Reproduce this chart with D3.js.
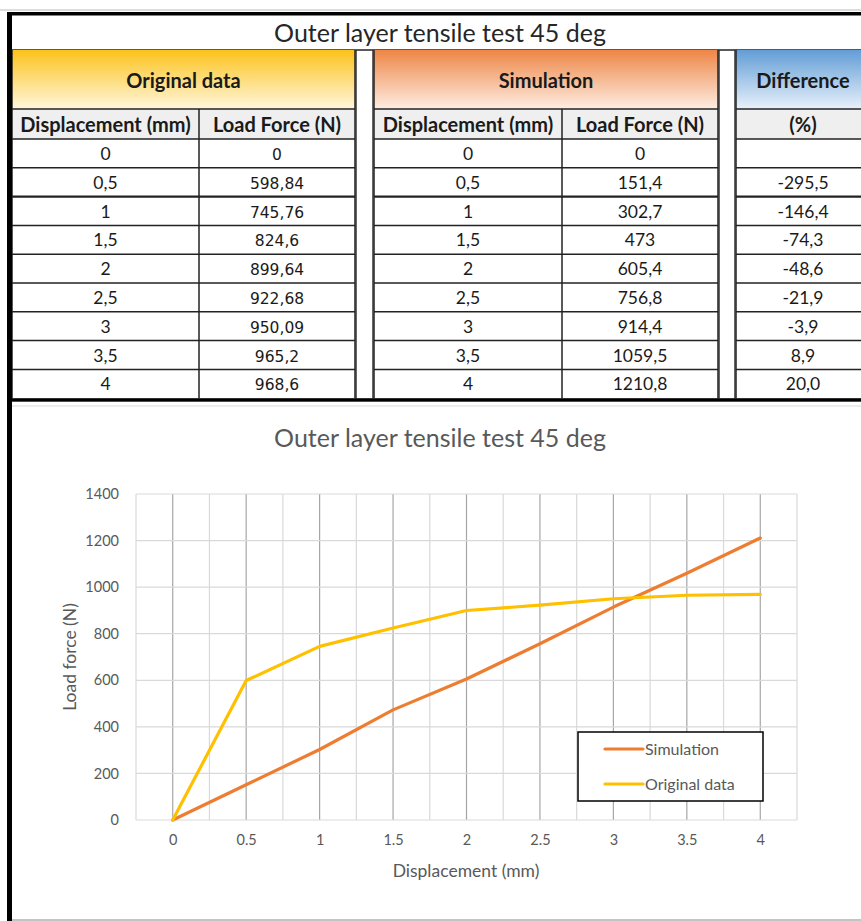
<!DOCTYPE html>
<html>
<head>
<meta charset="utf-8">
<script src="https://cdn.jsdelivr.net/npm/d3@7"></script>
<style>
  html, body { margin: 0; padding: 0; background: #fff; }
  svg { display: block; }
</style>
</head>
<body>
<svg id="sheet" width="861" height="921" font-family="Lato, 'Open Sans', sans-serif"></svg>
<script>
// Tensile test data: displacement (mm) and load force (N)
const displacement = [0, 0.5, 1, 1.5, 2, 2.5, 3, 3.5, 4];
const originalLoad = [0, 598.84, 745.76, 824.6, 899.64, 922.68, 950.09, 965.2, 968.6];
const simulationLoad = [0, 151.4, 302.7, 473, 605.4, 756.8, 914.4, 1059.5, 1210.8];
const differencePct = [null, -295.5, -146.4, -74.3, -48.6, -21.9, -3.9, 8.9, 20.0];

const title = "Outer layer tensile test 45 deg";
const groupHeaders = ["Original data", "Simulation", "Difference"];
const columnHeaders = ["Displacement (mm)", "Load Force (N)", "Displacement (mm)", "Load Force (N)", "(%)"];
const yTicks = [0, 200, 400, 600, 800, 1000, 1200, 1400];
const xTicks = [0, 0.5, 1, 1.5, 2, 2.5, 3, 3.5, 4];
const seriesNames = ["Simulation", "Original data"];
const seriesColors = ["#ED7D31", "#FFC000"];

const svg = d3.select("#sheet");
const comma = v => String(v).replace(".", ",");

// ---------- table ----------
const cols = [
  {x0: 12, x1: 199}, {x0: 199, x1: 355},
  {x0: 374, x1: 562}, {x0: 562, x1: 718},
  {x0: 736, x1: 870}
];
const gaps = [{x0: 355, x1: 374}, {x0: 718, x1: 736}];
const groups = [
  {x0: 12, x1: 355, top: "#FCC21B", bottom: "#FFF7DE"},
  {x0: 374, x1: 718, top: "#EE8645", bottom: "#FDEDE3"},
  {x0: 736, x1: 870, top: "#639DD6", bottom: "#E8F1FA"}
];
const titleTop = 15, headTop = 50, colHeadTop = 109, dataTop = 139, rowH = 28.8;

const defs = svg.append("defs");
groups.forEach((g, i) => {
  const lg = defs.append("linearGradient").attr("id", "hg" + i)
    .attr("x1", 0).attr("y1", 0).attr("x2", 0).attr("y2", 1);
  lg.append("stop").attr("offset", "0%").attr("stop-color", g.top);
  lg.append("stop").attr("offset", "100%").attr("stop-color", g.bottom);
});

const table = svg.append("g");

// title row
table.append("text")
  .attr("x", 440).attr("y", 42)
  .attr("text-anchor", "middle")
  .attr("font-size", 25).attr("fill", "#262626")
  .text(title);
table.append("line").attr("x1", 12).attr("x2", 861).attr("y1", headTop).attr("y2", headTop)
  .attr("stroke", "#222").attr("stroke-width", 1.5);

// group header cells
groups.forEach((g, i) => {
  table.append("rect").attr("x", g.x0).attr("y", headTop)
    .attr("width", g.x1 - g.x0).attr("height", colHeadTop - headTop)
    .attr("fill", `url(#hg${i})`);
  table.append("text")
    .attr("x", (g.x0 + g.x1) / 2).attr("y", 88)
    .attr("text-anchor", "middle").attr("font-weight", "bold")
    .attr("font-size", 20).attr("fill", "#1a1a1a")
    .text(groupHeaders[i]);
});

// column header cells
cols.forEach((c, i) => {
  table.append("rect").attr("x", c.x0).attr("y", colHeadTop)
    .attr("width", c.x1 - c.x0).attr("height", dataTop - colHeadTop)
    .attr("fill", "#EFEFEF");
  table.append("text")
    .attr("x", (c.x0 + c.x1) / 2).attr("y", 132)
    .attr("text-anchor", "middle").attr("font-weight", "bold")
    .attr("font-size", 20).attr("fill", "#1a1a1a")
    .text(columnHeaders[i]);
});

// data cells
const rowsData = displacement.map((d, i) => [
  comma(d), comma(originalLoad[i]), comma(d), comma(simulationLoad[i]),
  differencePct[i] === null ? "" : comma(differencePct[i].toFixed(1))
]);
rowsData.forEach((row, r) => {
  const y = dataTop + r * rowH;
  row.forEach((val, c) => {
    const col = cols[c];
    const tahomaLike = c === 1;
    table.append("text")
      .attr("x", (col.x0 + col.x1) / 2).attr("y", y + rowH / 2 + 6.5)
      .attr("text-anchor", "middle")
      .attr("font-family", tahomaLike ? "'DejaVu Sans', sans-serif" : "Lato, sans-serif")
      .attr("font-size", tahomaLike ? 15.5 : 17.5)
      .attr("fill", "#1a1a1a")
      .text(val);
  });
});

// grid lines of the table
const tableBottom = dataTop + rowsData.length * rowH;
const hLines = [colHeadTop, dataTop];
rowsData.forEach((_, r) => { if (r > 0) hLines.push(dataTop + r * rowH); });
hLines.forEach((y, k) => {
  cols.forEach(c => {
    table.append("line").attr("x1", c.x0).attr("x2", c.x1).attr("y1", y).attr("y2", y)
      .attr("stroke", "#222").attr("stroke-width", k === 3 ? 2.2 : 1.5);
  });
});
// inner column dividers start under the group header; group edges span it
[199, 562].forEach(xv => {
  table.append("line").attr("x1", xv).attr("x2", xv).attr("y1", colHeadTop).attr("y2", tableBottom)
    .attr("stroke", "#222").attr("stroke-width", 1.5);
});
[12, 355, 374, 718, 736].forEach(xv => {
  table.append("line").attr("x1", xv).attr("x2", xv).attr("y1", headTop).attr("y2", tableBottom)
    .attr("stroke", "#222").attr("stroke-width", 1.5);
});
gaps.forEach(g => {
  table.append("rect").attr("x", g.x0 + 1).attr("y", headTop + 1)
    .attr("width", g.x1 - g.x0 - 2).attr("height", tableBottom - headTop - 1)
    .attr("fill", "#fff");
  [g.x0 + 1, g.x1 - 1].forEach(xv => {
    table.append("line").attr("x1", xv).attr("x2", xv).attr("y1", headTop).attr("y2", tableBottom)
      .attr("stroke", "#333").attr("stroke-width", 1.5);
  });
});

// heavy outer borders
table.append("rect").attr("x", 0).attr("y", 9.5).attr("width", 861).attr("height", 1)
  .attr("fill", "#bbb");
table.append("rect").attr("x", 7).attr("y", 12).attr("width", 854).attr("height", 3.5)
  .attr("fill", "#000");
table.append("rect").attr("x", 7).attr("y", tableBottom).attr("width", 854).attr("height", 3.5)
  .attr("fill", "#000");
svg.append("rect").attr("x", 7).attr("y", 12).attr("width", 5).attr("height", 909)
  .attr("fill", "#000");

// ---------- chart ----------
const chart = svg.append("g");
chart.append("line").attr("x1", 12).attr("x2", 861).attr("y1", 406).attr("y2", 406)
  .attr("stroke", "#d9d9d9").attr("stroke-width", 1.2);
chart.append("line").attr("x1", 12).attr("x2", 861).attr("y1", 920).attr("y2", 920)
  .attr("stroke", "#888").attr("stroke-width", 1);

chart.append("text")
  .attr("x", 440).attr("y", 447)
  .attr("text-anchor", "middle")
  .attr("font-size", 25).attr("fill", "#595959")
  .text(title);

const x = d3.scaleLinear().domain([-0.25, 4.25]).range([136, 797]);
const y = d3.scaleLinear().domain([0, 1400]).range([820, 494]);

// vertical gridlines: minor between categories, major on each category
const minorX = d3.range(-0.25, 4.26, 0.5);
chart.selectAll(".vminor").data(minorX).join("line")
  .attr("x1", d => x(d)).attr("x2", d => x(d))
  .attr("y1", y(1400)).attr("y2", y(0))
  .attr("stroke", "#D9D9D9").attr("stroke-width", 1.2);
chart.selectAll(".vmajor").data(xTicks).join("line")
  .attr("x1", d => x(d)).attr("x2", d => x(d))
  .attr("y1", y(1400)).attr("y2", y(0))
  .attr("stroke", "#A6A6A6").attr("stroke-width", 1.2);
chart.selectAll(".hgrid").data(yTicks).join("line")
  .attr("x1", x(-0.25)).attr("x2", x(4.25))
  .attr("y1", d => y(d)).attr("y2", d => y(d))
  .attr("stroke", "#D9D9D9").attr("stroke-width", 1.2);

// axis labels via d3 axes (axis lines hidden)
const yAxis = chart.append("g").attr("transform", `translate(${x(-0.25)},0)`)
  .call(d3.axisLeft(y).tickValues(yTicks).tickSize(0).tickPadding(17)
    .tickFormat(d3.format("d")));
const xAxis = chart.append("g").attr("transform", `translate(0,${y(0)})`)
  .call(d3.axisBottom(x).tickValues(xTicks).tickSize(0).tickPadding(15)
    .tickFormat(d => String(d)));
[yAxis, xAxis].forEach(a => {
  a.select(".domain").remove();
  a.selectAll("text").attr("font-family", "Lato, sans-serif")
    .attr("font-size", 14.5).attr("fill", "#595959");
});

chart.append("text")
  .attr("x", 466).attr("y", 877)
  .attr("text-anchor", "middle")
  .attr("font-size", 17.5).attr("fill", "#595959")
  .text("Displacement (mm)");
chart.append("text")
  .attr("transform", `translate(76,${(y(0) + y(1400)) / 2}) rotate(-90)`)
  .attr("text-anchor", "middle")
  .attr("font-size", 17.5).attr("fill", "#595959")
  .text("Load force (N)");

// series lines
const line = d3.line().x((d, i) => x(displacement[i])).y(d => y(d));
[simulationLoad, originalLoad].forEach((vals, k) => {
  chart.append("path").datum(vals)
    .attr("d", line)
    .attr("fill", "none")
    .attr("stroke", seriesColors[k])
    .attr("stroke-width", 3.2)
    .attr("stroke-linejoin", "round")
    .attr("stroke-linecap", "round");
});

// legend
const legend = chart.append("g").attr("transform", "translate(578,732)");
legend.append("rect").attr("width", 185).attr("height", 69)
  .attr("fill", "#fff").attr("stroke", "#000").attr("stroke-width", 1.5);
seriesNames.forEach((name, k) => {
  const ly = 17 + k * 35;
  legend.append("line").attr("x1", 27).attr("x2", 65).attr("y1", ly).attr("y2", ly)
    .attr("stroke", seriesColors[k]).attr("stroke-width", 3.2).attr("stroke-linecap", "round");
  legend.append("text").attr("x", 67).attr("y", ly + 5.5)
    .attr("font-size", 16).attr("fill", "#595959")
    .text(name);
});
</script>
</body>
</html>
